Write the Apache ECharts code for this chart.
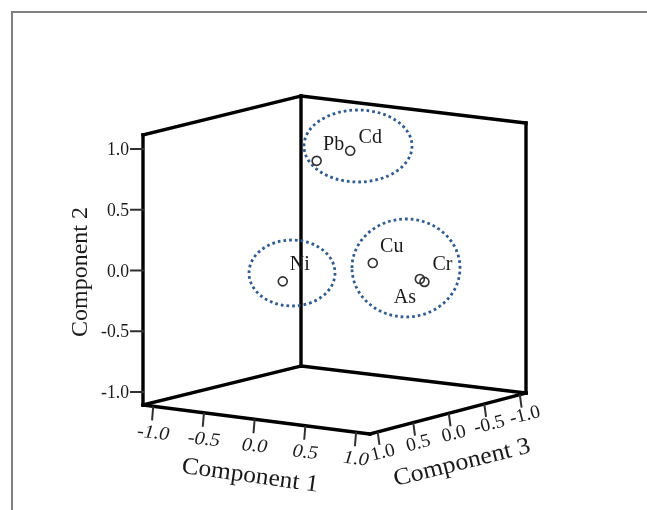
<!DOCTYPE html>
<html>
<head>
<meta charset="utf-8">
<style>html,body{margin:0;padding:0;background:#fff}#c{width:647px;height:510px}</style>
<script src="https://cdn.jsdelivr.net/npm/echarts@6/dist/echarts.min.js"></script>
</head>
<body>
<div id="c"></div>
<script>
// Data
const elements = ['Pb', 'Cd', 'Ni', 'Cu', 'As', 'Cr'];
const component1 = [-0.03, 0.09, 0.13, 0.03, 0.32, 0.33];
const component2 = [0.88, 0.93, 0.01, -0.06, -0.20, -0.23];
const component3 = [0.20, -0.10, 0.90, -0.50, -0.75, -0.80];
const ticks = [-1.0, -0.5, 0.0, 0.5, 1.0];
const tickLabels = ['-1.0', '-0.5', '0.0', '0.5', '1.0'];
const axisTitles = ['Component 1', 'Component 2', 'Component 3'];
const c1Range = [-1.10, 1.138];
const c2Range = [-1.107, 1.115];
const c3Range = [-1.085, 1.11];

// Clusters drawn as dotted rings (cx, cy, rx, ry on the page scale)
const rings = [[358, 146, 54, 36], [292, 273, 43, 33], [406, 268, 54, 49]];

// Oblique view of the box: floor corners and wall height on the page scale
const floor = {left: [143, 405], front: [370, 434], back: [301, 366], right: [526, 393]};
const wallHeight = 270;

function project(c1, c2, c3) {
  const u = (c1 - c1Range[0]) / (c1Range[1] - c1Range[0]);
  const v = (c3Range[1] - c3) / (c3Range[1] - c3Range[0]);
  const h = (c2 - c2Range[0]) / (c2Range[1] - c2Range[0]);
  const mix = i => floor.left[i] * (1 - u) * (1 - v) + floor.front[i] * u * (1 - v) +
                   floor.back[i] * (1 - u) * v + floor.right[i] * u * v;
  return [mix(0), mix(1) - h * wallHeight];
}
const [a0, a1] = c1Range, [b0, b1] = c2Range, [d0, d1] = c3Range;
const boxEdges = [
  [a0, b0, d1, a0, b1, d1], [a0, b0, d0, a0, b1, d0], [a1, b0, d0, a1, b1, d0],
  [a0, b1, d1, a0, b1, d0], [a0, b1, d0, a1, b1, d0],
  [a0, b0, d1, a1, b0, d1], [a1, b0, d1, a1, b0, d0],
  [a0, b0, d1, a0, b0, d0], [a0, b0, d0, a1, b0, d0]
].map(e => project(e[0], e[1], e[2]).concat(project(e[3], e[4], e[5])));

const tickSegs = [];
const texts = [];
const serif = '"Liberation Serif", serif';
ticks.forEach((t, i) => {
  let p = project(a0, t, d1);
  tickSegs.push([p[0] - 12, p[1], p[0], p[1]]);
  texts.push({x: p[0] - 14, y: p[1] + 1.5, text: tickLabels[i], size: 18, align: 'right', rot: 0, sx: 0.98});
  p = project(t, b0, d1);
  tickSegs.push([p[0], p[1] + 1, p[0] - 1, p[1] + 13]);
  texts.push({x: p[0], y: p[1] + 27, text: tickLabels[i], size: 19, rot: -6, italic: true, sx: 1.08});
  p = project(a1, b0, t);
  tickSegs.push([p[0], p[1] + 1, p[0] + 1.5, p[1] + 12]);
  texts.push({x: p[0] + 5, y: p[1] + 21, text: tickLabels[i], size: 19, rot: 14, sx: 1.03});
});
texts.push({x: 250, y: 476, text: axisTitles[0], size: 24, rot: -8, sx: 1.06});
texts.push({x: 81, y: 272, text: axisTitles[1], size: 24, rot: 90, sx: 1});
texts.push({x: 462, y: 463, text: axisTitles[2], size: 24, rot: 14, sx: 1.08});

const labelOffsets = [[17, -16], [20, -13], [17, -17], [19, -16], [-15, 19], [18, -17]];
const points = elements.map((n, i) => project(component1[i], component2[i], component3[i]));
elements.forEach((n, i) => {
  texts.push({x: points[i][0] + labelOffsets[i][0], y: points[i][1] + labelOffsets[i][1], text: n, size: 20, rot: 0, sx: 1});
});

function segSeries(data, width, color) {
  return {
    type: 'custom', silent: true, clip: false, data: data,
    renderItem: (p, api) => {
      const a = api.coord([api.value(0), api.value(1)]);
      const b = api.coord([api.value(2), api.value(3)]);
      return {type: 'line', shape: {x1: a[0], y1: a[1], x2: b[0], y2: b[1]},
        style: {stroke: color, lineWidth: width, lineCap: 'square', fill: null}};
    }
  };
}

const chart = echarts.init(document.getElementById('c'));
chart.setOption({
  animation: false,
  backgroundColor: '#ffffff',
  grid: {left: 0, right: 0, top: 0, bottom: 0},
  xAxis: {type: 'value', min: 0, max: 647, show: false},
  yAxis: {type: 'value', min: 0, max: 510, inverse: true, show: false},
  series: [
    segSeries([[12, 12, 660, 12], [12, 12, 12, 520]], 2, '#7f7f7f'),
    segSeries(boxEdges, 3.4, '#000000'),
    segSeries(tickSegs, 2, '#303030'),
    {
      type: 'custom', silent: true, clip: false, data: rings,
      renderItem: (p, api) => {
        const c = api.coord([api.value(0), api.value(1)]);
        return {type: 'ellipse', shape: {cx: c[0], cy: c[1], rx: api.value(2), ry: api.value(3)},
          style: {fill: null, stroke: '#2f5b8f', lineWidth: 2.8, lineDash: [2.7, 3]}};
      }
    },
    {
      type: 'scatter', silent: true, clip: false, data: points, symbol: 'circle', symbolSize: 9,
      itemStyle: {color: 'rgba(255,255,255,0)', borderColor: '#303030', borderWidth: 1.6, opacity: 1}
    },
    {
      type: 'custom', silent: true, clip: false, data: texts.map((t, i) => [t.x, t.y, i]),
      renderItem: (p, api) => {
        const t = texts[api.value(2)];
        const c = api.coord([t.x, t.y]);
        return {type: 'text', x: c[0], y: c[1], rotation: t.rot * Math.PI / 180, scaleX: t.sx || 1,
          style: {text: t.text, fill: '#1a1a1a', align: t.align || 'center', verticalAlign: 'middle',
            font: (t.italic ? 'italic ' : '') + t.size + 'px ' + serif}};
      }
    }
  ]
});
</script>
</body>
</html>
